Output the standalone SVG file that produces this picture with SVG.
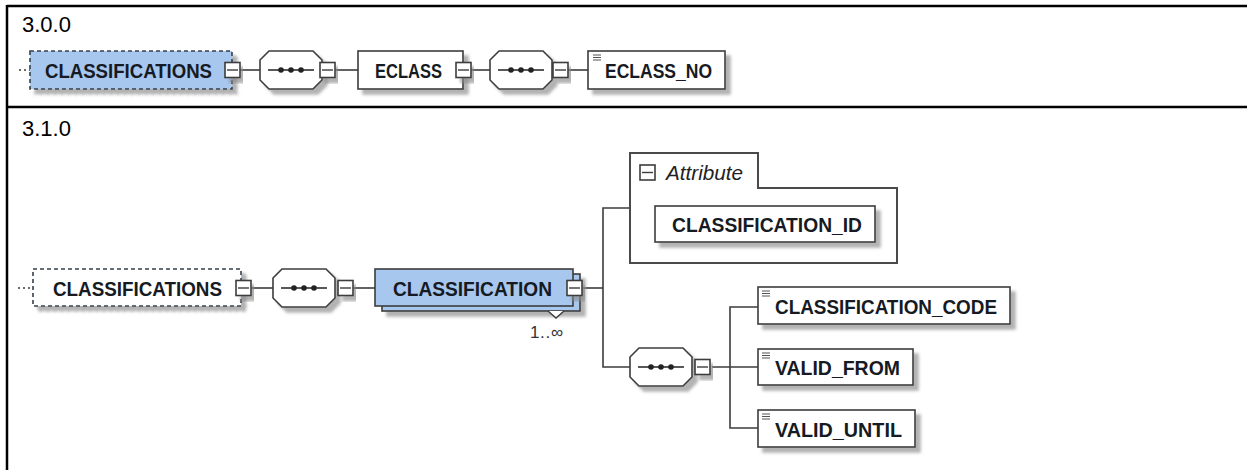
<svg xmlns="http://www.w3.org/2000/svg" width="1247" height="470" viewBox="0 0 1247 470">
  <defs>
    <style>
      .frame { stroke: #000; stroke-width: 2.5; fill: none; }
      .ver { font-family: "Liberation Sans", Arial, sans-serif; font-size: 22px; fill: #000; }
      .box { fill: #fff; stroke: #3c3c3c; stroke-width: 1.6; }
      .blue { fill: #a7c7ef; }
      .dash { stroke-dasharray: 4 3; stroke: #34404e; }
      .lbl { font-family: "Liberation Sans", Arial, sans-serif; font-weight: bold; font-size: 20.5px; fill: #161a22; }
      .ital { font-family: "Liberation Sans", Arial, sans-serif; font-style: italic; font-size: 20px; fill: #222; }
      .small { font-family: "Liberation Sans", Arial, sans-serif; font-size: 17px; fill: #333; }
      .conn { stroke: #3c3c3c; stroke-width: 1.6; fill: none; }
      .grp { fill: #fff; stroke: #4a4a4a; stroke-width: 2; }
      .icon { stroke: #555; stroke-width: 1; }
    </style>
    <filter id="shadow" x="-10%" y="-20%" width="130%" height="160%">
      <feDropShadow dx="5" dy="5" stdDeviation="1.4" flood-color="#8a8a8a" flood-opacity="0.65"/>
    </filter>
    <!-- collapse/expand toggle -->
    <g id="toggle">
      <rect x="0" y="0" width="15" height="15" class="box"/>
      <line x1="2" y1="7.5" x2="13" y2="7.5" stroke="#3c3c3c" stroke-width="1.4"/>
    </g>
    <!-- sequence compositor -->
    <g id="seq">
      <path d="M9,0 H53 L62,9 V29 L53,38 H9 L0,29 V9 Z" class="box"/>
      <line x1="8" y1="19" x2="54" y2="19" stroke="#222" stroke-width="1.4"/>
      <circle cx="21" cy="19" r="2.8" fill="#222"/>
      <circle cx="31" cy="19" r="2.8" fill="#222"/>
      <circle cx="41" cy="19" r="2.8" fill="#222"/>
    </g>
    <!-- simple-content element marker -->
    <g id="simple">
      <line x1="0" y1="0" x2="8" y2="0" class="icon"/>
      <line x1="0" y1="2.5" x2="8" y2="2.5" class="icon"/>
      <line x1="0" y1="5" x2="8" y2="5" class="icon"/>
    </g>
  </defs>

  <rect width="1247" height="470" fill="#fff"/>

  <!-- table frame -->
  <g id="table">
    <line x1="7" y1="6" x2="1247" y2="6" class="frame"/>
    <line x1="7" y1="107" x2="1247" y2="107" class="frame"/>
    <line x1="7" y1="5" x2="7" y2="470" class="frame"/>
    <text x="22" y="32" class="ver">3.0.0</text>
    <text x="22" y="136" class="ver">3.1.0</text>
  </g>

  <!-- connectors -->
  <g id="connectors">
    <line x1="19" y1="70" x2="30" y2="70" class="conn" stroke-dasharray="2 3"/>
    <line x1="240" y1="70" x2="260" y2="70" class="conn"/>
    <line x1="335" y1="70" x2="358" y2="70" class="conn"/>
    <line x1="471" y1="70" x2="490" y2="70" class="conn"/>
    <line x1="568" y1="70" x2="588" y2="70" class="conn"/>

    <line x1="18" y1="288" x2="33" y2="288" class="conn" stroke-dasharray="2 3"/>
    <line x1="251" y1="288" x2="273" y2="288" class="conn"/>
    <line x1="353" y1="288" x2="375" y2="288" class="conn"/>
    <line x1="582" y1="288" x2="603" y2="288" class="conn"/>
    <polyline points="630,208 603,208 603,367 630,367" class="conn"/>
    <line x1="712" y1="367" x2="758" y2="367" class="conn"/>
    <polyline points="758,307 730,307 730,428 758,428" class="conn"/>
  </g>

  <!-- 3.0.0 -->
  <g id="v300-classifications">
    <rect x="30" y="51" width="202" height="38" class="box blue dash" filter="url(#shadow)"/>
    <text x="45" y="77.5" class="lbl" textLength="167" lengthAdjust="spacingAndGlyphs">CLASSIFICATIONS</text>
    <use href="#toggle" x="225" y="62.5" filter="url(#shadow)"/>
  </g>
  <g id="v300-seq1">
    <use href="#seq" x="260" y="51" filter="url(#shadow)"/>
    <use href="#toggle" x="320" y="62.5" filter="url(#shadow)"/>
  </g>
  <g id="v300-eclass">
    <rect x="358" y="51" width="105" height="38" class="box" filter="url(#shadow)"/>
    <text x="375" y="77.5" class="lbl" textLength="67" lengthAdjust="spacingAndGlyphs">ECLASS</text>
    <use href="#toggle" x="456" y="62.5" filter="url(#shadow)"/>
  </g>
  <g id="v300-seq2">
    <use href="#seq" x="490" y="51" filter="url(#shadow)"/>
    <use href="#toggle" x="553" y="62.5" filter="url(#shadow)"/>
  </g>
  <g id="v300-eclass-no">
    <rect x="588" y="51" width="137" height="38" class="box" filter="url(#shadow)"/>
    <use href="#simple" x="593" y="55"/>
    <text x="605" y="77.5" class="lbl" textLength="107" lengthAdjust="spacingAndGlyphs">ECLASS_NO</text>
  </g>

  <!-- 3.1.0 -->
  <g id="v310-classifications">
    <rect x="33" y="269" width="208" height="37" class="box dash" filter="url(#shadow)"/>
    <text x="53" y="295.5" class="lbl" textLength="169" lengthAdjust="spacingAndGlyphs">CLASSIFICATIONS</text>
    <use href="#toggle" x="236" y="280.5" filter="url(#shadow)"/>
  </g>
  <g id="v310-seq">
    <use href="#seq" x="273" y="269" filter="url(#shadow)"/>
    <use href="#toggle" x="338" y="280.5" filter="url(#shadow)"/>
  </g>
  <g id="v310-classification">
    <rect x="382" y="274" width="198" height="37" class="box blue" filter="url(#shadow)"/>
    <path d="M548,311 L556,318 L564,311" fill="#fff" stroke="#3c3c3c" stroke-width="1.4"/>
    <rect x="375" y="269" width="198" height="37" class="box blue"/>
    <text x="393" y="295.5" class="lbl" textLength="159" lengthAdjust="spacingAndGlyphs">CLASSIFICATION</text>
    <use href="#toggle" x="567" y="280.5" filter="url(#shadow)"/>
    <text x="530" y="338" class="small" textLength="33">1..∞</text>
  </g>
  <g id="v310-attributes">
    <path d="M630,153 H758 V188 H897 V263 H630 Z" class="grp"/>
    <use href="#toggle" x="640" y="165"/>
    <text x="666" y="180" class="ital" textLength="77" lengthAdjust="spacingAndGlyphs">Attribute</text>
  </g>
  <g id="v310-classification-id">
    <rect x="655" y="206" width="220" height="36" class="box" filter="url(#shadow)"/>
    <text x="672" y="232" class="lbl" textLength="190" lengthAdjust="spacingAndGlyphs">CLASSIFICATION_ID</text>
  </g>
  <g id="v310-seq2">
    <use href="#seq" x="630" y="348" filter="url(#shadow)"/>
    <use href="#toggle" x="695" y="359.5" filter="url(#shadow)"/>
  </g>
  <g id="v310-classification-code">
    <rect x="758" y="287" width="252" height="37" class="box" filter="url(#shadow)"/>
    <use href="#simple" x="762" y="291"/>
    <text x="775" y="313.5" class="lbl" textLength="222" lengthAdjust="spacingAndGlyphs">CLASSIFICATION_CODE</text>
  </g>
  <g id="v310-valid-from">
    <rect x="758" y="349" width="155" height="36" class="box" filter="url(#shadow)"/>
    <use href="#simple" x="762" y="353"/>
    <text x="775" y="375" class="lbl" textLength="125" lengthAdjust="spacingAndGlyphs">VALID_FROM</text>
  </g>
  <g id="v310-valid-until">
    <rect x="758" y="410" width="157" height="37" class="box" filter="url(#shadow)"/>
    <use href="#simple" x="762" y="414"/>
    <text x="775" y="436.5" class="lbl" textLength="127" lengthAdjust="spacingAndGlyphs">VALID_UNTIL</text>
  </g>
</svg>
